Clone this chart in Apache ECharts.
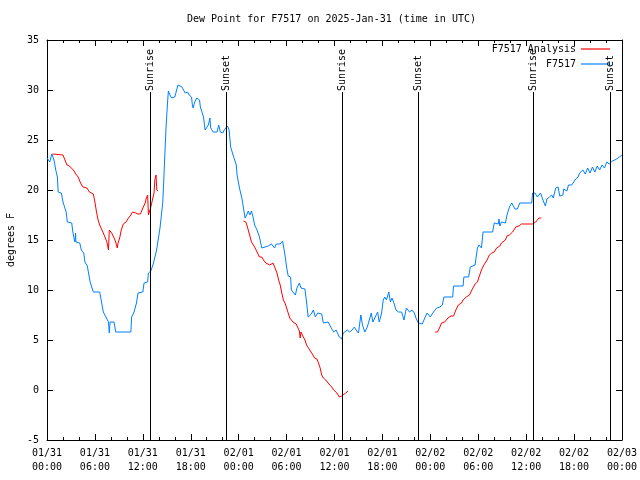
<!DOCTYPE html>
<html><head><meta charset="utf-8">
<script src="https://cdn.jsdelivr.net/npm/echarts@6/dist/echarts.min.js"></script>
<style>html,body{margin:0;padding:0;background:#fff}#c{width:640px;height:480px}</style>
</head><body><div id="c"></div>
<script>
// Hours since 2025-01-31 00:00 UTC
const blueHours = [0.0,0.16,0.35,0.6,0.75,0.9,1.1,1.3,1.4,1.8,2.0,2.25,2.4,2.55,3.1,3.2,3.4,3.5,3.58,3.62,4.1,4.3,4.6,4.75,5.05,5.2,5.4,5.8,6.6,6.85,7.05,7.3,7.7,7.8,7.9,8.4,8.6,10.5,10.6,10.9,11.2,11.4,12.0,12.15,12.6,12.7,13.0,13.3,13.7,14.15,14.5,14.65,14.9,15.1,15.2,15.4,15.6,16.0,16.4,16.9,17.1,17.3,17.6,17.8,18.1,18.2,18.3,18.5,18.75,19.1,19.2,19.4,19.6,19.8,20.0,20.2,20.4,20.5,20.8,21.0,21.3,21.5,21.7,22.0,22.2,22.6,22.8,23.0,23.3,23.7,23.8,24.1,24.4,24.6,24.8,25.0,25.2,25.4,25.6,25.8,26.0,26.3,26.6,26.7,26.9,27.1,27.7,28.1,28.3,28.5,28.7,29.2,29.5,29.8,30.0,30.2,30.5,30.6,30.8,31.1,31.3,31.6,31.8,32.3,32.5,32.7,33.1,33.35,33.6,33.9,34.4,34.6,35.2,35.6,35.9,36.2,36.6,36.9,37.1,37.3,37.6,37.9,38.2,38.5,38.7,39.0,39.3,39.5,39.8,40.1,40.4,40.6,40.8,41.1,41.4,41.6,41.9,42.1,42.3,42.5,42.8,43.0,43.2,43.4,43.7,44.0,44.4,44.7,45.0,45.4,45.7,46.0,46.2,46.5,46.7,47.0,47.3,47.6,48.0,48.3,48.8,49.2,49.5,49.7,50.8,50.9,52.1,52.2,52.8,53.0,53.6,53.9,54.1,54.4,54.6,55.8,56.0,56.5,56.6,56.7,56.9,57.4,57.6,57.9,58.2,58.6,58.9,59.2,60.7,60.8,61.1,61.4,61.6,61.8,62.1,62.4,62.6,62.9,63.2,63.4,63.7,64.0,64.2,64.6,64.7,65.1,65.3,65.7,65.9,66.2,66.5,66.7,67.1,67.4,67.7,68.0,68.3,68.6,68.9,69.2,69.5,69.8,70.1,70.4,70.8,71.1,71.5,72.0];
const blueValues = [23.2,23.3,22.8,23.6,23.3,22.9,22.0,21.3,19.8,19.7,18.8,18.7,17.8,16.8,16.7,16.0,15.1,14.8,15.7,14.8,14.7,14.0,13.7,12.8,12.4,11.7,10.8,9.8,9.8,8.7,7.8,7.8,6.8,5.7,6.8,6.8,5.8,5.8,7.3,7.8,8.7,9.7,9.8,10.7,10.8,11.7,11.9,12.6,13.9,16.2,18.8,21.5,26.2,28.8,29.9,29.5,29.2,29.3,30.5,30.3,30.2,29.7,29.8,29.5,29.3,28.5,28.2,28.8,29.2,29.0,28.3,27.8,27.3,26.0,26.0,26.5,27.2,26.2,25.8,26.0,25.8,26.5,25.8,25.7,26.0,26.4,26.0,24.3,23.5,22.5,21.5,20.2,19.2,18.2,17.2,17.5,17.9,17.5,17.9,17.3,16.5,16.0,15.3,15.2,14.2,14.4,14.4,14.6,14.8,14.2,14.6,14.6,14.9,13.5,12.3,11.4,11.3,10.0,9.8,9.5,10.2,10.7,10.2,10.1,8.8,7.3,7.6,8.0,7.3,7.7,7.6,6.7,6.8,6.2,5.8,6.0,5.3,5.1,5.7,5.8,6.0,5.8,6.0,6.3,6.0,5.7,7.5,6.5,5.8,6.3,7.1,7.7,6.8,7.3,7.8,6.8,7.7,9.0,9.3,9.0,9.8,8.8,9.2,8.8,8.0,7.8,7.8,7.0,8.2,7.8,8.0,7.7,7.2,6.7,6.9,6.6,7.2,7.7,7.3,7.7,8.2,8.3,8.5,9.3,9.3,10.4,10.4,11.3,11.3,12.3,12.5,14.2,14.5,14.2,15.8,15.8,16.7,16.6,17.1,16.4,16.8,16.7,17.5,18.3,18.7,18.1,18.1,18.7,18.7,19.7,19.7,19.3,19.1,19.7,19.0,18.4,19.1,19.3,19.5,19.2,20.2,20.3,19.4,19.5,20.1,19.9,20.5,20.5,20.7,21.1,21.3,21.7,22.0,21.6,22.2,21.7,22.3,21.8,22.4,22.0,22.5,22.2,22.8,22.6,22.9,23.0,23.2,23.5];

// null marks a gap in the analysis series
const redHours = [0.7,2.0,2.25,2.5,2.8,3.3,3.6,3.9,4.2,4.5,5.0,5.3,5.5,5.8,6.0,6.2,6.4,6.6,6.8,7.05,7.25,7.5,7.6,7.7,7.8,8.1,8.4,8.6,8.8,8.9,9.1,9.3,9.55,9.9,10.2,10.5,10.7,11.1,11.4,11.7,12.0,12.3,12.4,12.6,12.7,12.9,13.0,13.2,13.4,13.5,13.65,13.75,13.9,
  19.0,
  24.6,24.9,25.1,25.3,25.6,25.8,26.0,26.3,26.6,26.9,27.1,27.4,27.6,27.9,28.3,28.5,28.8,29.0,29.2,29.4,29.6,29.8,30.0,30.2,30.4,30.8,31.2,31.6,31.7,31.8,32.1,32.3,32.5,32.7,32.9,33.3,33.5,33.8,34.0,34.2,34.4,34.6,34.9,35.2,35.4,35.65,35.9,36.3,36.6,36.9,37.1,37.4,37.7,
  43.0,
  48.6,48.9,49.2,49.4,49.8,50.2,50.6,50.9,51.2,51.5,51.9,52.1,52.5,52.9,53.2,53.6,53.9,54.1,54.4,54.7,55.1,55.4,55.7,56.0,56.3,56.7,56.9,57.4,57.6,57.9,58.3,58.7,59.1,59.4,60.8,61.2,61.6,61.9];
const redValues = [23.6,23.5,23.0,22.5,22.4,22.0,21.6,21.3,20.7,20.3,20.2,19.8,19.7,19.6,18.8,17.8,17.0,16.5,16.4,15.7,15.3,14.8,14.4,14.0,16.0,15.7,15.2,14.8,14.2,14.7,15.2,16.0,16.6,16.8,17.2,17.5,17.8,17.7,17.6,17.6,18.2,18.7,19.1,19.5,17.5,17.5,18.3,19.0,19.7,21.0,21.5,20.0,19.9,
  null,
  16.9,16.8,16.3,15.7,14.8,14.7,14.3,13.8,13.3,13.3,13.0,12.7,12.5,12.5,12.7,12.7,11.7,11.0,10.5,9.7,9.0,8.7,8.2,7.7,7.2,6.8,6.6,5.9,5.2,5.8,5.3,5.0,4.5,4.3,4.0,3.5,3.2,3.1,2.7,2.2,1.5,1.2,1.0,0.7,0.5,0.3,0.0,-0.3,-0.7,-0.6,-0.4,-0.3,-0.1,
  null,
  5.8,5.8,6.3,6.7,6.8,7.2,7.4,7.4,8.0,8.5,8.7,9.0,9.3,9.5,10.0,10.6,10.8,11.3,12.0,12.5,13.0,13.5,13.7,13.8,14.2,14.4,14.7,15.0,15.4,15.5,15.8,16.3,16.4,16.6,16.6,16.8,17.2,17.2];

const sunHours = [12.94, 22.45, 36.98, 46.5, 60.9, 70.5];
const sunLabels = ['Sunrise', 'Sunset', 'Sunrise', 'Sunset', 'Sunrise', 'Sunset'];

const xTickLabels = ['01/31\n00:00','01/31\n06:00','01/31\n12:00','01/31\n18:00','02/01\n00:00','02/01\n06:00','02/01\n12:00','02/01\n18:00','02/02\n00:00','02/02\n06:00','02/02\n12:00','02/02\n18:00','02/03\n00:00'];

const titleText = 'Dew Point for F7517 on 2025-Jan-31 (time in UTC)';
const yName = 'degrees F';
const seriesNames = ['F7517 Analysis', 'F7517'];

const FONT = 'DejaVu Sans Mono';
const LINE_TOP = 29.8; // value where the marker lines stop under their labels

const bluePairs = blueHours.map((h, i) => [h, blueValues[i]]);
const redPairs = redHours.map((h, i) => [h, redValues[i] === null ? '-' : redValues[i]]);

const markData = [];
sunHours.forEach((h, i) => {
  markData.push([{ coord: [h, -5] }, { coord: [h, LINE_TOP] }]);
  markData.push([
    { coord: [h, LINE_TOP], lineStyle: { color: 'rgba(0,0,0,0)', width: 0 },
      label: { show: true, formatter: sunLabels[i] } },
    { coord: [h, 35] }
  ]);
});

const chart = echarts.init(document.getElementById('c'), null, { renderer: 'canvas' });
const axisCommon = {
  axisLine: { show: true, onZero: false, lineStyle: { color: '#000', width: 1 } },
  splitLine: { show: false }
};
chart.setOption({
  animation: false,
  backgroundColor: '#fff',
  textStyle: { fontFamily: FONT },
  title: {
    text: titleText, left: 187, top: 14, padding: 0,
    textStyle: { fontFamily: FONT, fontSize: 10, fontWeight: 'normal', color: '#000' }
  },
  legend: {
    data: seriesNames,
    orient: 'vertical', right: 30, top: 44, align: 'right', padding: 0,
    icon: 'rect', itemWidth: 29, itemHeight: 1.2, itemGap: 5,
    textStyle: { fontFamily: FONT, fontSize: 10, color: '#000', lineHeight: 10 },
    selectedMode: false
  },
  grid: { left: 47, right: 18, top: 40, bottom: 40, containLabel: false, outerBoundsMode: 'none' },
  xAxis: [
    Object.assign({}, axisCommon, {
      type: 'value', min: 0, max: 72, interval: 6, position: 'bottom',
      axisTick: { show: true, inside: true, length: 6, lineStyle: { color: '#000' } },
      minorTick: { show: true, splitNumber: 3, length: 3, lineStyle: { color: '#000' } },
      axisLabel: { color: '#000', fontFamily: FONT, fontSize: 10, lineHeight: 14, margin: 6,
        formatter: v => xTickLabels[Math.round(v / 6)] }
    }),
    Object.assign({}, axisCommon, {
      type: 'value', min: 0, max: 72, interval: 6, position: 'top',
      axisTick: { show: true, inside: true, length: 6, lineStyle: { color: '#000' } },
      minorTick: { show: true, splitNumber: 3, length: 3, lineStyle: { color: '#000' } },
      axisLabel: { show: false }
    })
  ],
  yAxis: [
    Object.assign({}, axisCommon, {
      type: 'value', min: -5, max: 35, interval: 5, position: 'left',
      axisTick: { show: true, inside: true, length: 6, lineStyle: { color: '#000' } },
      axisLabel: { color: '#000', fontFamily: FONT, fontSize: 10, margin: 8 },
      name: yName, nameLocation: 'middle', nameRotate: 90, nameGap: 31,
      nameTextStyle: { color: '#000', fontFamily: FONT, fontSize: 10 }
    }),
    Object.assign({}, axisCommon, {
      type: 'value', min: -5, max: 35, interval: 5, position: 'right',
      axisTick: { show: true, inside: true, length: 6, lineStyle: { color: '#000' } },
      axisLabel: { show: false }
    })
  ],
  series: [
    {
      name: 'markers', type: 'line', data: [], silent: true, z: 1,
      markLine: {
        silent: true, symbol: ['none', 'none'], animation: false,
        lineStyle: { color: '#000', width: 1, type: 'solid' },
        label: { show: false, position: 'insideStart', distance: 1, color: '#000',
          fontFamily: FONT, fontSize: 10 },
        emphasis: { disabled: true },
        data: markData
      }
    },
    {
      name: seriesNames[0], type: 'line', data: redPairs, showSymbol: false, symbol: 'none',
      connectNulls: false, color: '#ff0000', lineStyle: { color: '#ff0000', width: 1 }, z: 3
    },
    {
      name: seriesNames[1], type: 'line', data: bluePairs, showSymbol: false, symbol: 'none',
      color: '#0080ff', lineStyle: { color: '#0080ff', width: 1 }, z: 2
    }
  ]
});
</script>
</body></html>
